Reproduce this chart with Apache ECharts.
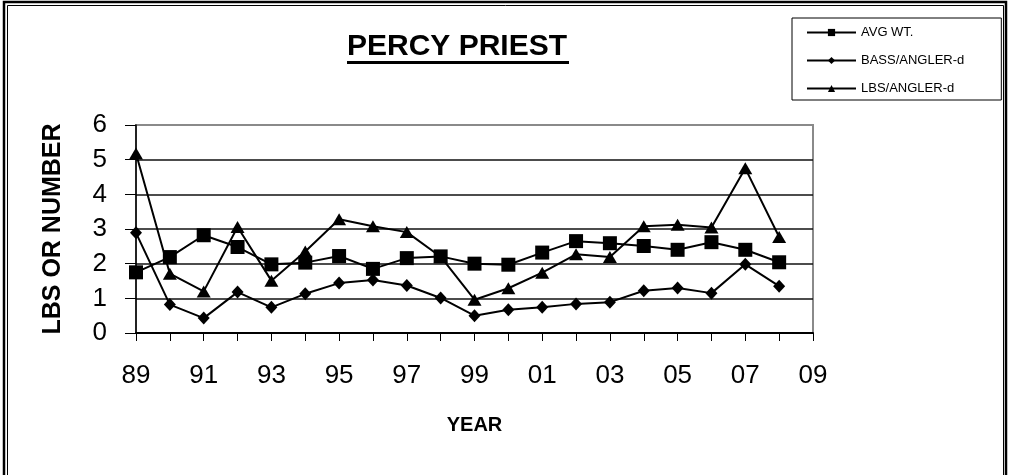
<!DOCTYPE html>
<html>
<head>
<meta charset="UTF-8">
<title>Percy Priest</title>
<script src="https://cdn.jsdelivr.net/npm/echarts@6/dist/echarts.min.js"></script>
<style>
	html, body {
		margin: 0;
		padding: 0;
		background: #fff;
	}

	#main {
		width: 1011px;
		height: 475px;
	}
</style>
</head>

<body>
	<div id="main"></div>
</body>
<script type="text/javascript">
	// years on the x axis (two digits), the last one has no data
	var years = ['89', '90', '91', '92', '93', '94', '95', '96', '97', '98', '99',
		'00', '01', '02', '03', '04', '05', '06', '07', '08', '09'];

	// values
	var avgWt = [1.75, 2.19, 2.82, 2.48, 1.98, 2.03, 2.22, 1.85, 2.16, 2.21,
		2.0, 1.97, 2.32, 2.65, 2.59, 2.51, 2.4, 2.62, 2.4, 2.04];
	var bassPerAngler = [2.89, 0.82, 0.43, 1.18, 0.74, 1.13, 1.44, 1.53, 1.37, 1.01,
		0.5, 0.67, 0.74, 0.84, 0.89, 1.22, 1.3, 1.15, 1.98, 1.35];
	var lbsPerAngler = [5.18, 1.71, 1.2, 3.06, 1.51, 2.35, 3.28, 3.08, 2.91, 2.2,
		0.96, 1.29, 1.74, 2.27, 2.19, 3.08, 3.12, 3.04, 4.75, 2.77];

	var seriesNames = ['AVG WT.', 'BASS/ANGLER-d', 'LBS/ANGLER-d'];

	var font = 'Liberation Sans, Arial, sans-serif';

	var myChart = echarts.init(document.getElementById('main'));

	myChart.setOption({
		backgroundColor: '#fff',
		animation: false,
		title: {
			text: 'PERCY PRIEST',
			left: 347,
			top: 32,
			padding: 0,
			textStyle: {
				fontFamily: font,
				fontSize: 30,
				fontWeight: 'bold',
				color: '#000'
			}
		},
		// outer double frame and the title underline
		graphic: [
			{
				type: 'rect',
				shape: { x: 4, y: 2, width: 1002, height: 490 },
				style: { fill: 'none', stroke: '#000', lineWidth: 2.5 }
			},
			{
				type: 'rect',
				shape: { x: 7.5, y: 5.5, width: 996, height: 490 },
				style: { fill: 'none', stroke: '#000', lineWidth: 1 }
			},
			{
				type: 'rect',
				shape: { x: 347, y: 61, width: 222, height: 3 },
				style: { fill: '#000' }
			}
		],
		legend: {
			data: seriesNames,
			orient: 'vertical',
			left: 792,
			top: 18,
			padding: [8, 37, 5, 14],
			itemGap: 15,
			itemWidth: 49,
			itemHeight: 9,
			borderColor: '#000',
			borderWidth: 1,
			textStyle: {
				fontFamily: font,
				fontSize: 13,
				color: '#000'
			}
		},
		grid: {
			left: 136,
			right: 198,
			top: 125,
			bottom: 142,
			show: true,
			borderColor: '#8a8a8a',
			borderWidth: 2
		},
		xAxis: {
			type: 'category',
			data: years,
			boundaryGap: false,
			name: 'YEAR',
			nameLocation: 'middle',
			nameGap: 82,
			nameTextStyle: {
				fontFamily: font,
				fontSize: 20,
				fontWeight: 'bold',
				color: '#000',
				verticalAlign: 'top'
			},
			axisLine: { lineStyle: { color: '#000', width: 2 } },
			axisTick: {
				interval: 0,
				length: 8,
				lineStyle: { color: '#000', width: 1 }
			},
			axisLabel: {
				interval: 1,
				margin: 30,
				fontFamily: font,
				fontSize: 26,
				color: '#000'
			},
			splitLine: { show: false }
		},
		yAxis: {
			type: 'value',
			min: 0,
			max: 6,
			interval: 1,
			name: 'LBS OR NUMBER',
			nameLocation: 'middle',
			nameGap: 70,
			nameTextStyle: {
				fontFamily: font,
				fontSize: 25,
				fontWeight: 'bold',
				color: '#000'
			},
			axisLine: { show: true, lineStyle: { color: '#000', width: 1.5 } },
			axisTick: {
				show: true,
				length: 11,
				lineStyle: { color: '#000', width: 1 }
			},
			axisLabel: {
				margin: 29,
				fontFamily: font,
				fontSize: 26,
				color: '#000'
			},
			splitLine: {
				show: true,
				lineStyle: {
					color: ['#000', '#111', '#111', '#111', '#111', '#111', '#8a8a8a'],
					width: 1.5
				}
			}
		},
		series: [
			{
				name: 'BASS/ANGLER-d',
				type: 'line',
				data: bassPerAngler,
				symbol: 'diamond',
				symbolSize: [12, 13],
				lineStyle: { color: '#000', width: 2 },
				itemStyle: { color: '#000' }
			},
			{
				name: 'LBS/ANGLER-d',
				type: 'line',
				data: lbsPerAngler,
				symbol: 'triangle',
				symbolSize: [14, 12],
				lineStyle: { color: '#000', width: 2 },
				itemStyle: { color: '#000' }
			},
			{
				name: 'AVG WT.',
				type: 'line',
				data: avgWt,
				symbol: 'rect',
				symbolSize: 14,
				lineStyle: { color: '#000', width: 2 },
				itemStyle: { color: '#000' }
			}
		]
	});
</script>

</html>
